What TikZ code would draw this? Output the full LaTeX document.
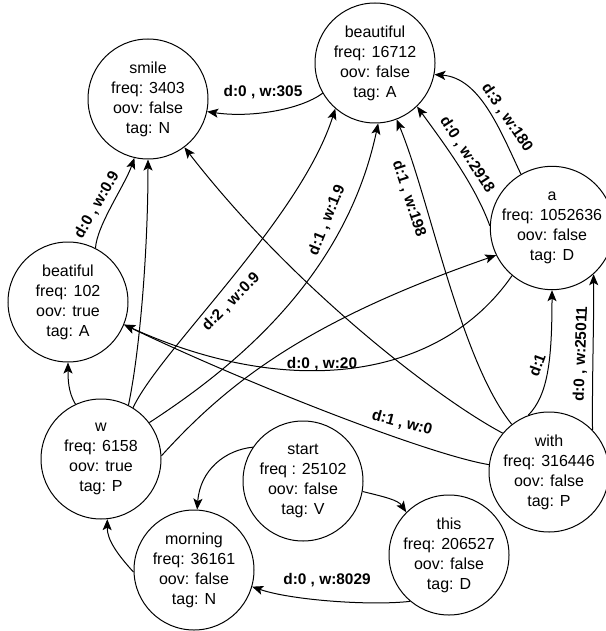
\documentclass[tikz,border=0pt]{standalone}
\usepackage{fontspec}
\setmainfont{Liberation Sans}
\usetikzlibrary{arrows.meta}
\begin{document}
\begin{tikzpicture}[x=1pt,y=-1pt,
  word/.style={circle, draw, line width=1pt, minimum size=120pt, inner sep=0pt,
    align=center, font=\fontsize{16}{20}\selectfont},
  link/.style={line width=1pt, -{Stealth[length=11pt,width=9pt,inset=2.5pt]}},
  lbl/.style={font=\fontsize{15.4}{18}\selectfont\bfseries, inner sep=1pt}]
\useasboundingbox (0,0) rectangle (605,631);

% vocabulary nodes
\node[word] (smile)     at (148,99)  {smile\\freq: 3403\\oov: false\\tag: N};
\node[word] (beautiful) at (375,63)  {beautiful\\freq: 16712\\oov: false\\tag: A};
\node[word] (a)         at (552,228) {a\\freq: 1052636\\oov: false\\tag: D};
\node[word] (beatiful)  at (68,302)  {beatiful\\freq: 102\\oov: true\\tag: A};
\node[word] (w)         at (101,459) {w\\freq: 6158\\oov: true\\tag: P};
\node[word] (start)     at (303,481) {start\\freq : 25102\\oov: false\\tag: V};
\node[word] (morning)   at (194,570) {morning\\freq: 36161\\oov: false\\tag: N};
\node[word] (this)      at (449,555) {this\\freq: 206527\\oov: false\\tag: D};
\node[word] (with)      at (549,472) {with\\freq: 316446\\oov: false\\tag: P};

% links
\draw[link] (beautiful.210) .. controls (300,110) and (250,118) .. (smile.348);
\draw[link] (a.120) .. controls (500,130) and (480,78) .. (beautiful.349);
\draw[link] (a.178) .. controls (475,185) and (445,145) .. (beautiful.314);
\draw[link] (with.128) .. controls (460,360) and (430,200) .. (beautiful.291);
\draw[link] (w.37) .. controls (230,370) and (345,280) .. (beautiful.273);
\draw[link] (w.58) .. controls (160,350) and (300,220) .. (beautiful.229);
\draw[link] (beatiful.63) .. controls (97,225) and (125,185) .. (smile.257);
\draw[link] (w.63) .. controls (140,350) and (148,250) .. (smile.270);
\draw[link] (with.140) .. controls (440,400) and (295,290) .. (smile.307);
\draw[link] (w.3) .. controls (230,380) and (310,320) .. (a.206);
\draw[link] (a.230) .. controls (440,380) and (290,400) .. (beatiful.338);
\draw[link] (with.173) .. controls (430,455) and (250,385) .. (beatiful.338);
\draw[link] (with.110) .. controls (548,395) and (552,360) .. (a.270);
\draw[link] (with.44) .. controls (592,380) and (594,320) .. (a.312);
\draw[link] (start.146) .. controls (225,450) and (200,470) .. (morning.87);
\draw[link] (start.350) .. controls (385,497) and (398,500) .. (this.135);
\draw[link] (this.230) .. controls (370,606) and (290,600) .. (morning.344);
\draw[link] (morning.182) .. controls (118,555) and (107,540) .. (w.276);
\draw[link] (w.115) .. controls (68,392) and (68,378) .. (beatiful.270);

% link labels
\node[lbl] (l1)  at (263,92)                {d:0 , w:305};
\node[lbl, rotate=-56] (l2)  at (507,118)   {d:3 , w:180};
\node[lbl, rotate=-57] (l3)  at (467,155)   {d:0 , w:2918};
\node[lbl, rotate=-72] (l4)  at (409,199)   {d:1 , w:198};
\node[lbl, rotate=68]  (l5)  at (327,220)   {d:1 , w:1.9};
\node[lbl, rotate=45]  (l6)  at (231,302)   {d:2 , w:0.9};
\node[lbl, rotate=60]  (l7)  at (97,205)    {d:0 , w:0.9};
\node[lbl] (l8)  at (322,364)               {d:0 , w:20};
\node[lbl, rotate=-15] (l9)  at (402,423)   {d:1 , w:0};
\node[lbl, rotate=70]  (l10) at (537,365)   {d:1};
\node[lbl, rotate=88]  (l11) at (581,354)   {d:0 , w:25011};
\node[lbl] (l12) at (327,580)               {d:0 , w:8029};
\end{tikzpicture}
\end{document}
